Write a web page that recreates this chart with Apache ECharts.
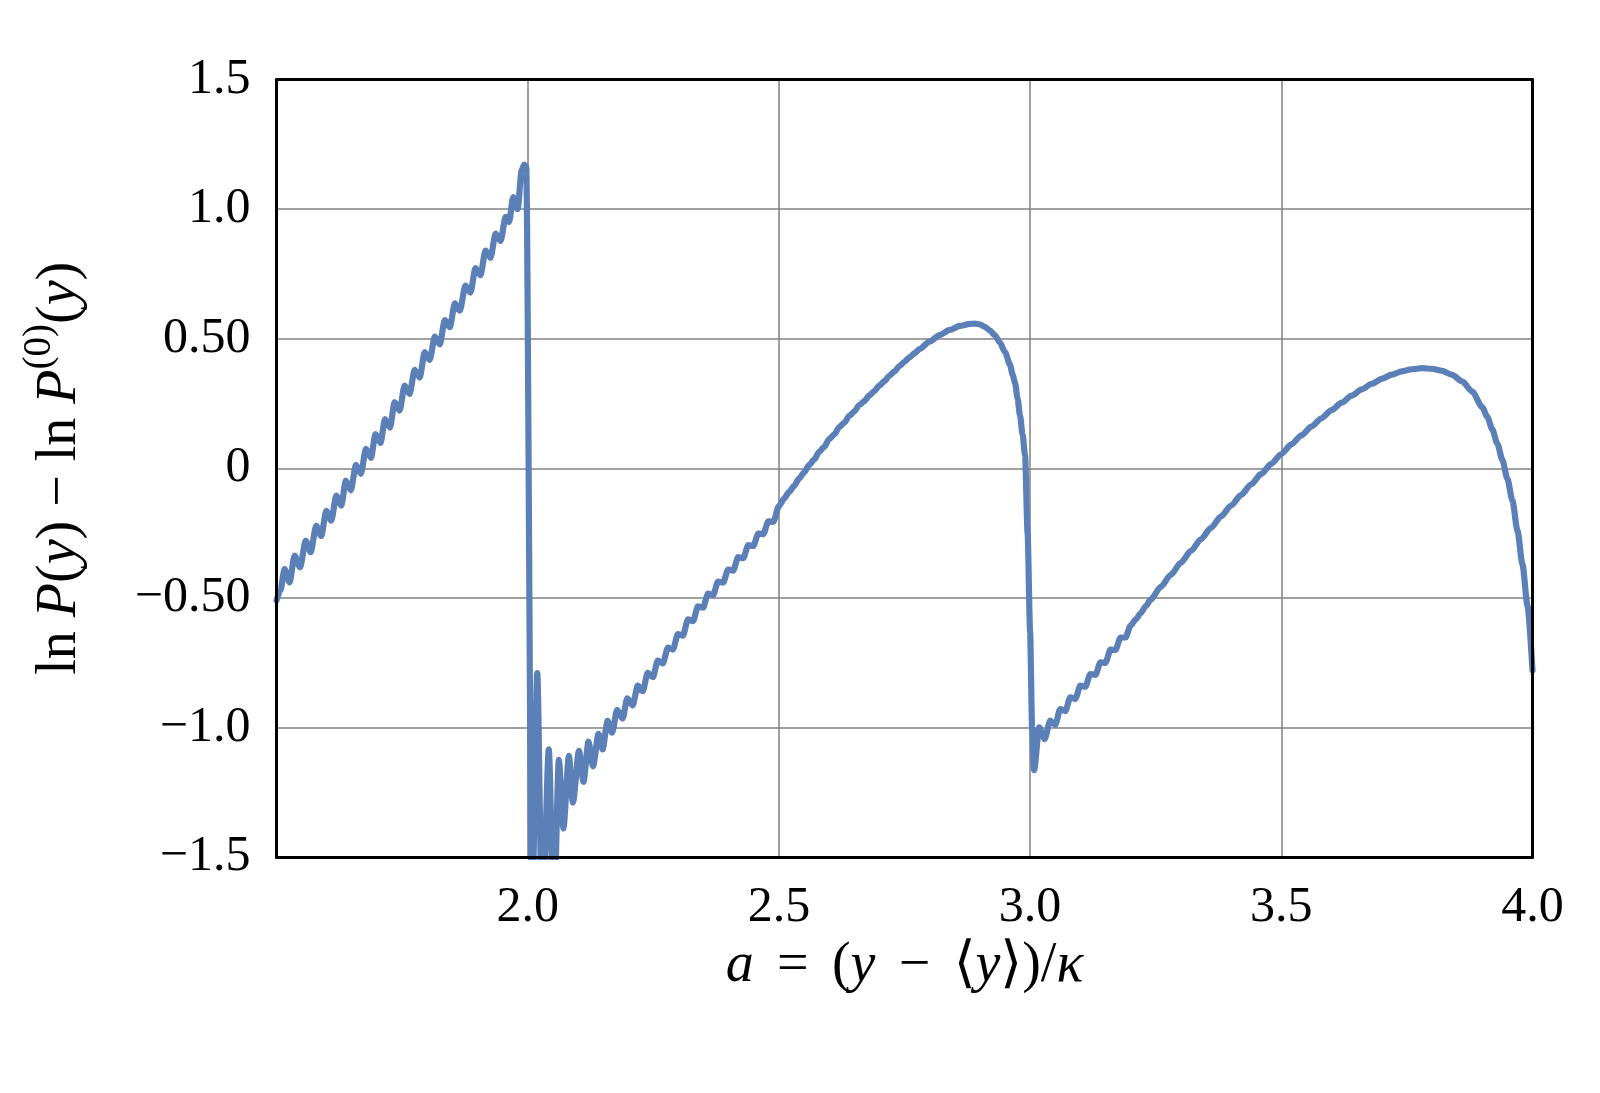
<!DOCTYPE html>
<html>
<head>
<meta charset="utf-8">
<script src="https://cdn.jsdelivr.net/npm/echarts@6/dist/echarts.min.js"></script>
<style>
html,body{margin:0;padding:0;background:#ffffff;}
#chart{width:1600px;height:1093px;}
</style>
</head>
<body>
<div id="chart"></div>
<script>
// ---- data: [a, lnP - lnP0] ----
const branchOne = [
  [1.500,-0.510],[1.508,-0.470],[1.516,-0.389],[1.526,-0.440],[1.536,-0.337],[1.547,-0.382],
  [1.558,-0.279],[1.568,-0.324],[1.579,-0.222],[1.589,-0.262],[1.599,-0.164],[1.609,-0.202],
  [1.619,-0.106],[1.629,-0.144],[1.638,-0.048],[1.648,-0.085],[1.658,0.013],[1.668,-0.022],
  [1.678,0.075],[1.688,0.040],[1.697,0.132],[1.707,0.098],[1.716,0.190],[1.726,0.157],
  [1.735,0.255],[1.745,0.222],[1.755,0.319],[1.765,0.287],[1.775,0.380],[1.785,0.350],
  [1.795,0.448],[1.805,0.418],[1.815,0.508],[1.825,0.478],[1.835,0.572],[1.845,0.544],
  [1.855,0.636],[1.865,0.608],[1.876,0.705],[1.886,0.678],[1.896,0.772],[1.906,0.745],
  [1.916,0.840],[1.926,0.812],[1.936,0.905],[1.946,0.877],[1.956,0.970],[1.963,0.950],
  [1.971,1.046],[1.980,1.000],[1.988,1.150],[1.993,1.172],[1.997,1.165]
];
const branchTwo = [
  [2.0085,-1.750],[2.019,-0.790],[2.029,-1.800],[2.042,-1.085],[2.052,-1.750],[2.062,-1.125],
  [2.071,-1.390],[2.082,-1.110],[2.090,-1.290],[2.102,-1.090],[2.111,-1.210],[2.121,-1.055],
  [2.130,-1.150],[2.141,-1.025],[2.149,-1.085],[2.159,-0.975],[2.168,-1.020],[2.178,-0.932],
  [2.189,-0.966],[2.198,-0.888],[2.209,-0.915],[2.219,-0.839],[2.229,-0.860],[2.239,-0.789],
  [2.249,-0.806],[2.259,-0.742],[2.269,-0.753],[2.279,-0.692],[2.289,-0.700],[2.299,-0.640],
  [2.309,-0.646],[2.319,-0.583],[2.329,-0.590],[2.339,-0.533],[2.349,-0.538],[2.359,-0.484],
  [2.369,-0.489],[2.379,-0.437],[2.389,-0.441],[2.399,-0.391],[2.409,-0.395],[2.419,-0.343],
  [2.429,-0.347],[2.439,-0.297],[2.449,-0.300],[2.459,-0.252],[2.469,-0.254],[2.479,-0.205],
  [2.489,-0.207],[2.500,-0.146],[2.510,-0.118],[2.520,-0.092],[2.530,-0.069],[2.540,-0.040],
  [2.550,-0.017],[2.560,0.012],[2.570,0.033],[2.580,0.063],[2.590,0.082],[2.600,0.112],
  [2.610,0.130],[2.620,0.158],[2.630,0.175],[2.640,0.202],[2.650,0.219],[2.660,0.244],
  [2.670,0.259],[2.680,0.281],[2.690,0.298],[2.700,0.319],[2.710,0.336],[2.720,0.357],
  [2.730,0.374],[2.740,0.394],[2.750,0.411],[2.760,0.428],[2.770,0.444],[2.780,0.460],
  [2.800,0.489],[2.820,0.514],[2.840,0.534],[2.860,0.549],[2.880,0.557],[2.890,0.558],
  [2.900,0.555],[2.910,0.546],[2.920,0.531],[2.930,0.513],[2.940,0.485],[2.950,0.448],
  [2.960,0.400],[2.965,0.362],[2.970,0.330],[2.975,0.270],[2.980,0.203],[2.985,0.130],
  [2.990,0.049],[2.995,-0.250],[3.000,-0.630],[3.004,-1.000],[3.008,-1.165]
];
const branchThree = [
  [3.018,-1.000],[3.029,-1.045],[3.040,-0.974],[3.050,-0.990],[3.060,-0.929],[3.070,-0.937],
  [3.080,-0.884],[3.090,-0.890],[3.100,-0.839],[3.110,-0.843],[3.120,-0.794],[3.130,-0.797],
  [3.140,-0.749],[3.150,-0.751],[3.160,-0.700],[3.170,-0.701],[3.180,-0.653],[3.190,-0.653],
  [3.200,-0.607],[3.210,-0.584],[3.220,-0.560],[3.230,-0.533],[3.240,-0.507],[3.260,-0.458],
  [3.280,-0.411],[3.300,-0.365],[3.320,-0.319],[3.340,-0.274],[3.360,-0.230],[3.380,-0.186],
  [3.400,-0.144],[3.420,-0.103],[3.440,-0.062],[3.460,-0.022],[3.480,0.017],[3.500,0.055],
  [3.520,0.092],[3.540,0.127],[3.560,0.161],[3.580,0.193],[3.600,0.224],[3.620,0.253],
  [3.640,0.280],[3.660,0.304],[3.680,0.326],[3.700,0.345],[3.720,0.361],[3.740,0.374],
  [3.760,0.382],[3.780,0.386],[3.800,0.384],[3.820,0.376],[3.840,0.360],[3.860,0.335],
  [3.880,0.296],[3.900,0.236],[3.910,0.198],[3.920,0.150],[3.930,0.095],[3.940,0.032],
  [3.950,-0.040],[3.960,-0.125],[3.970,-0.240],[3.980,-0.370],[3.990,-0.530],[4.000,-0.780]
];

// ---- tick labels ----
const xTickLabels = {"1.5": "", "2": "2.0", "2.5": "2.5", "3": "3.0", "3.5": "3.5", "4": "4.0"};
const yTickLabels = {"1.5": "1.5", "1": "1.0", "0.5": "0.50", "0": "0",
                     "-0.5": "\u22120.50", "-1": "\u22121.0", "-1.5": "\u22121.5"};

const FONT = '"Liberation Serif", "DejaVu Serif", serif';
const LINE_COLOR = '#5b7fb7';
const FRAME = {show: true, onZero: false, lineStyle: {color: '#000000', width: 3}};
const SP = ' \u2006';  // math spacing around binary operators

const chart = echarts.init(document.getElementById('chart'), null, {renderer: 'canvas'});

const titleRich = (size) => ({
  r: {fontFamily: FONT, fontSize: size, color: '#000', lineHeight: 68, verticalAlign: 'bottom'},
  i: {fontFamily: FONT, fontSize: size, fontStyle: 'italic', color: '#000', lineHeight: 68, verticalAlign: 'bottom'},
  s: {fontFamily: FONT, fontSize: Math.round(size * 0.7), color: '#000', lineHeight: 42, verticalAlign: 'top'}
});

const frameAxis = (type, position, min, max) => ({
  type: 'value', position: position, min: min, max: max, z: 10,
  axisLine: FRAME, axisTick: {show: false}, axisLabel: {show: false}, splitLine: {show: false}
});

chart.setOption({
  animation: false,
  backgroundColor: '#ffffff',
  grid: {left: 276.5, right: 67.5, top: 79.5, bottom: 236, show: false, containLabel: false},
  xAxis: [{
    type: 'value', position: 'bottom', min: 1.5, max: 4.0, interval: 0.5, z: 0,
    axisLine: {show: false}, axisTick: {show: false},
    splitLine: {show: true, lineStyle: {color: '#808080', width: 1.5}},
    axisLabel: {
      margin: 26, color: '#000', fontFamily: FONT, fontSize: 50,
      formatter: (v) => xTickLabels[String(v)] !== undefined ? xTickLabels[String(v)] : String(v)
    },
    name: '{i|a}{r|' + SP + '=' + SP + '(}{i|y}{r|' + SP + '\u2212' + SP + '\u27E8}{i|y}{r|\u27E9)/}{i|\u03BA}',
    nameLocation: 'middle', nameGap: 68,
    nameTextStyle: {rich: titleRich(56)}
  },
  frameAxis('value', 'bottom', 1.5, 4.0),
  frameAxis('value', 'top', 1.5, 4.0)],
  yAxis: [{
    type: 'value', position: 'left', min: -1.5, max: 1.5, interval: 0.5, z: 0,
    axisLine: {show: false}, axisTick: {show: false},
    splitLine: {show: true, lineStyle: {color: '#808080', width: 1.5}},
    axisLabel: {
      margin: 26, color: '#000', fontFamily: FONT, fontSize: 50,
      formatter: (v) => yTickLabels[String(v)] !== undefined ? yTickLabels[String(v)] : String(v)
    },
    name: '{r|ln }{i|P}{r|(}{i|y}{r|) \u2212 ln }{i|P}{s|(0)}{r|(}{i|y}{r|)}',
    nameLocation: 'middle', nameGap: 188, nameRotate: 90,
    nameTextStyle: {rich: titleRich(56)}
  },
  frameAxis('value', 'left', -1.5, 1.5),
  frameAxis('value', 'right', -1.5, 1.5)],
  series: [{
    type: 'line',
    xAxisIndex: 0, yAxisIndex: 0,
    data: [].concat(branchOne, branchTwo, branchThree),
    showSymbol: false,
    smooth: 0.25,
    smoothMonotone: 'x',
    clip: true,
    z: 5,
    lineStyle: {color: LINE_COLOR, width: 6.2, join: 'round', cap: 'round'},
    itemStyle: {color: LINE_COLOR}
  }]
});
</script>
</body>
</html>
